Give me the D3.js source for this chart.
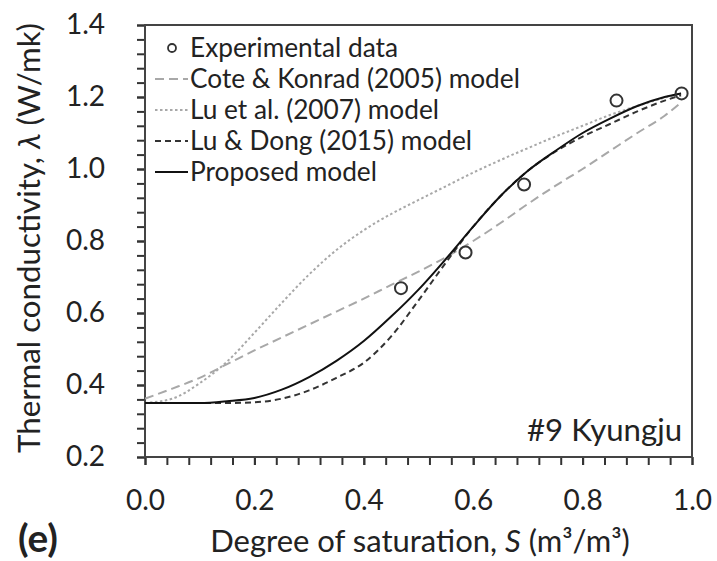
<!DOCTYPE html>
<html>
<head>
<meta charset="utf-8">
<script src="https://cdn.jsdelivr.net/npm/d3@7"></script>
<style>
  body { margin: 0; background: #fff; }
  text { font-family: Lato, "Open Sans", sans-serif; fill: #222; }
</style>
</head>
<body>
<script>
var w = 717, h = 561;
var margin = { top: 25, right: 25, bottom: 104, left: 145 };

// experimental points
var expS = [0.468, 0.586, 0.693, 0.862, 0.981];
var expK = [0.669, 0.768, 0.957, 1.190, 1.210];

// model curves
var satS = [0, 0.05, 0.1, 0.15, 0.2, 0.25, 0.3, 0.35, 0.4, 0.45, 0.5, 0.55, 0.6, 0.65, 0.7, 0.75, 0.8, 0.85, 0.9, 0.95, 0.98];
var coteKonrad = [0.362, 0.39, 0.42, 0.458, 0.496, 0.532, 0.568, 0.604, 0.64, 0.678, 0.715, 0.755, 0.8, 0.85, 0.903, 0.953, 1.0, 1.05, 1.1, 1.148, 1.185];
var luEtAl = [0.35, 0.362, 0.405, 0.465, 0.545, 0.628, 0.707, 0.775, 0.83, 0.875, 0.914, 0.952, 0.99, 1.025, 1.058, 1.09, 1.12, 1.15, 1.175, 1.198, 1.21];
var luDong = [0.35, 0.35, 0.35, 0.35, 0.352, 0.362, 0.385, 0.42, 0.462, 0.535, 0.635, 0.74, 0.84, 0.925, 0.995, 1.048, 1.09, 1.125, 1.16, 1.19, 1.205];
var proposed = [0.35, 0.35, 0.35, 0.355, 0.364, 0.387, 0.422, 0.467, 0.522, 0.59, 0.665, 0.75, 0.84, 0.925, 0.995, 1.05, 1.1, 1.14, 1.175, 1.2, 1.21];

var xTicks = [0, 0.2, 0.4, 0.6, 0.8, 1.0];
var yTicks = [0.2, 0.4, 0.6, 0.8, 1.0, 1.2, 1.4];

var legendLabels = ["Experimental data", "Cote & Konrad (2005) model", "Lu et al. (2007) model", "Lu & Dong (2015) model", "Proposed model"];

var series = [
  { vals: coteKonrad, color: "#a8a8a8", dash: "9,5", width: 2 },
  { vals: luEtAl, color: "#a8a8a8", dash: "2.5,2.5", width: 2 },
  { vals: luDong, color: "#333", dash: "6,4", width: 2 },
  { vals: proposed, color: "#111", dash: null, width: 2 }
];

// scale a text's font so it spans the given width
function fit(sel, target) {
  sel.style("font-size", "20px");
  var len = sel.node().getComputedTextLength();
  sel.style("font-size", (20 * target / len) + "px");
  return sel;
}

var svg = d3.select("body").append("svg")
  .attr("width", w)
  .attr("height", h);

var x = d3.scaleLinear().domain([0, 1]).range([margin.left, w - margin.right]);
var y = d3.scaleLinear().domain([0.2, 1.4]).range([h - margin.bottom, margin.top]);

// minor ticks every 0.04
svg.append("g")
  .attr("transform", "translate(0," + (h - margin.bottom) + ")")
  .call(d3.axisBottom(x).tickValues(d3.range(0, 1.0001, 0.04)).tickSize(8).tickFormat(""))
  .call(function (g) { g.select(".domain").remove(); g.selectAll("line").attr("stroke", "#333").attr("stroke-width", 2); });
svg.append("g")
  .attr("transform", "translate(" + margin.left + ",0)")
  .call(d3.axisLeft(y).tickValues(d3.range(0.2, 1.4001, 0.04)).tickSize(8).tickFormat(""))
  .call(function (g) { g.select(".domain").remove(); g.selectAll("line").attr("stroke", "#333").attr("stroke-width", 2); });

// major ticks and labels
var xAxis = svg.append("g")
  .attr("transform", "translate(0," + (h - margin.bottom) + ")")
  .call(d3.axisBottom(x).tickValues(xTicks).tickSize(8).tickPadding(25).tickFormat(d3.format(".1f")));
var yAxis = svg.append("g")
  .attr("transform", "translate(" + margin.left + ",0)")
  .call(d3.axisLeft(y).tickValues(yTicks).tickSize(8).tickPadding(32).tickFormat(d3.format(".1f")));
[xAxis, yAxis].forEach(function (g) {
  g.select(".domain").remove();
  g.selectAll("line").attr("stroke", "#333").attr("stroke-width", 2);
  g.selectAll("text").style("font-family", "Lato, sans-serif").style("font-size", "28px").attr("fill", "#222");
});

// plot frame
svg.append("rect")
  .attr("x", margin.left)
  .attr("y", margin.top)
  .attr("width", w - margin.left - margin.right)
  .attr("height", h - margin.top - margin.bottom)
  .attr("fill", "none")
  .attr("stroke", "#444")
  .attr("stroke-width", 2);

// model curves
var line = d3.line()
  .x(function (d, i) { return x(satS[i]); })
  .y(function (d) { return y(d); })
  .curve(d3.curveMonotoneX);

series.forEach(function (s) {
  svg.append("path")
    .datum(s.vals)
    .attr("d", line)
    .attr("fill", "none")
    .attr("stroke", s.color)
    .attr("stroke-width", s.width)
    .attr("stroke-dasharray", s.dash);
});

// experimental points
svg.selectAll("circle.exp")
  .data(expS)
  .enter()
  .append("circle")
  .attr("class", "exp")
  .attr("cx", function (d) { return x(d); })
  .attr("cy", function (d, i) { return y(expK[i]); })
  .attr("r", 6)
  .attr("fill", "none")
  .attr("stroke", "#333")
  .attr("stroke-width", 2);

// legend
var lg = svg.append("g").attr("transform", "translate(155,48)");
var legendTexts = [];
legendLabels.forEach(function (lab, i) {
  var row = lg.append("g").attr("transform", "translate(0," + (i * 31) + ")");
  if (i === 0) {
    row.append("circle").attr("cx", 17).attr("cy", 0).attr("r", 4)
      .attr("fill", "none").attr("stroke", "#333").attr("stroke-width", 1.8);
  } else {
    var s = series[i - 1];
    row.append("line").attr("x1", 0).attr("x2", 33).attr("y1", 0).attr("y2", 0)
      .attr("stroke", s.color).attr("stroke-width", s.width).attr("stroke-dasharray", s.dash);
  }
  legendTexts.push(row.append("text")
    .attr("x", 35)
    .attr("y", 0)
    .attr("dy", "0.35em")
    .text(lab));
});
fit(legendTexts[1], 330);
var legendSize = legendTexts[1].style("font-size");
legendTexts.forEach(function (t) { t.style("font-size", legendSize); });

// sample label
fit(svg.append("text")
  .attr("x", 682)
  .attr("y", 441)
  .attr("text-anchor", "end")
  .text("#9 Kyungju"), 155);

// axis titles
var xt = svg.append("text")
  .attr("x", 420)
  .attr("y", 552)
  .attr("text-anchor", "middle");
xt.append("tspan").text("Degree of saturation, ");
xt.append("tspan").style("font-style", "italic").text("S");
xt.append("tspan").text(" (m³/m³)");
fit(xt, 420);

var yt = svg.append("text")
  .attr("transform", "translate(29,238) rotate(-90)")
  .attr("dy", "0.35em")
  .attr("text-anchor", "middle");
yt.append("tspan").text("Thermal conductivity, ");
yt.append("tspan").style("font-style", "italic").text("λ");
yt.append("tspan").text(" (W/mk)");
fit(yt, 430);

fit(svg.append("text")
  .attr("x", 18)
  .attr("y", 552)
  .style("font-weight", "bold")
  .text("(e)"), 40);
</script>
</body>
</html>
